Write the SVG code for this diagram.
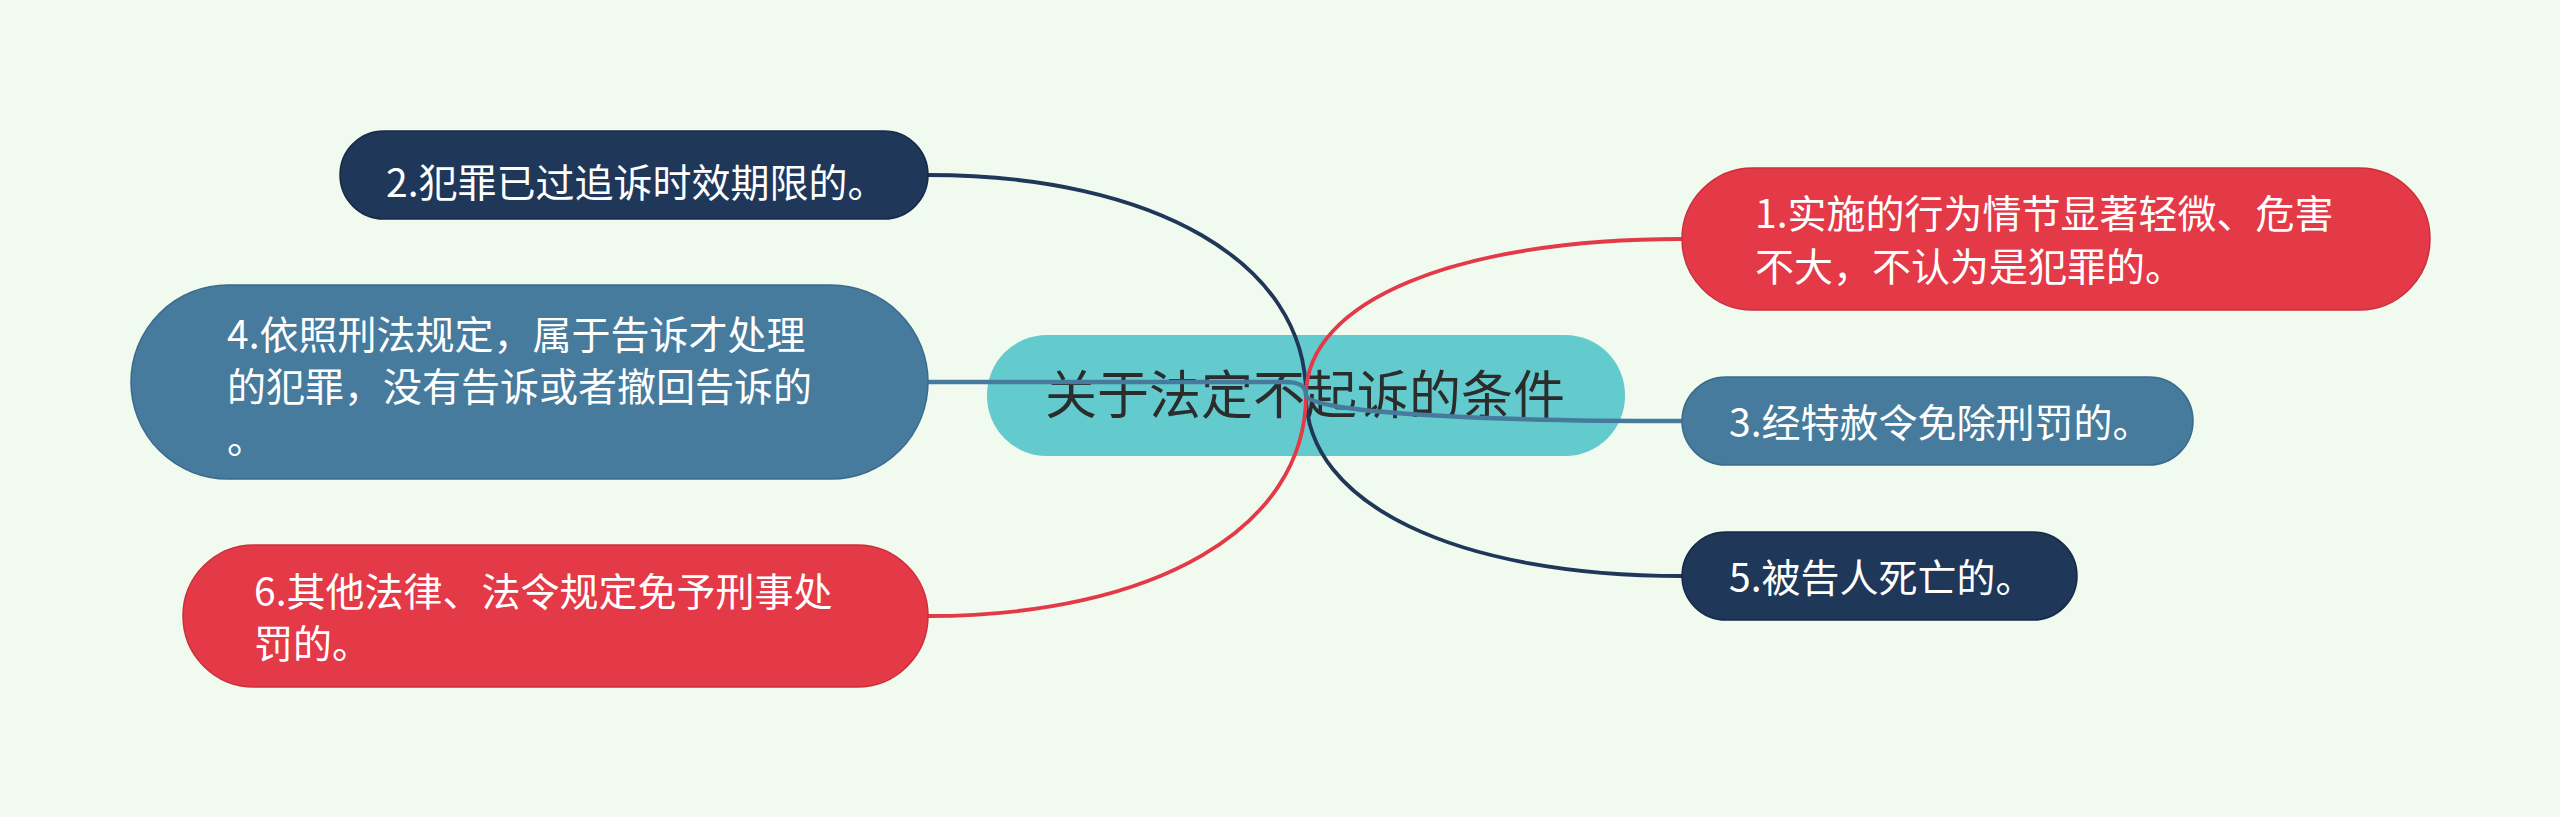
<svg xmlns="http://www.w3.org/2000/svg" width="2560" height="817" viewBox="0 0 2560 817">
<style>
.bg{fill:#f0faef}
.t{font-family:"Noto Sans CJK SC","Noto Sans",sans-serif;font-size:39px;fill:#ffffff}
.ct{font-family:"Noto Sans CJK SC","Noto Sans",sans-serif;font-size:52px;fill:#2c2c2c}
.navy{fill:#1f3759;stroke:#172b49;stroke-width:1.5}
.steel{fill:#467b9d;stroke:#3b6b8c;stroke-width:1.5}
.red{fill:#e43947;stroke:#cc2f3c;stroke-width:1.5}
.c{fill:none;stroke-width:3.8;stroke-linecap:round}
.cn{stroke:#1f3759}
.cr{stroke:#e43947}
.cb{stroke:#467b9d;stroke-width:4.5}
</style>
<rect class="bg" x="0" y="0" width="2560" height="817"/>
<g id="center">
<rect x="987" y="335" width="638" height="121" rx="60" ry="60" fill="#63cbcd"/>
<text class="ct" x="1045" y="414">关于法定不起诉的条件</text>
</g>
<g id="connectors">
<path class="c cn" d="M1306,395 C1306,263 1155,175 928,175"/>
<path class="c cn" d="M1306,395 C1306,504 1456,576 1682,576"/>
<path class="c cr" d="M1306,395 C1306,301 1456,239 1682,239"/>
<path class="c cr" d="M1306,395 C1306,528 1155,616 928,616"/>
<path class="c cb" d="M1306,395 C1306,385 1298,382 1285,382 L928,382"/>
<path class="c cb" d="M1306,395 C1306,411 1456,421 1682,421"/>
</g>
<g id="node2">
<rect class="navy" x="340" y="131" width="588" height="88" rx="44" ry="44"/>
<text class="t" x="386" y="197">2.犯罪已过追诉时效期限的。</text>
</g>
<g id="node4">
<rect class="steel" x="131" y="285" width="797" height="194" rx="97" ry="97"/>
<text class="t" x="227" y="349">4.依照刑法规定，属于告诉才处理</text>
<text class="t" x="227" y="401">的犯罪，没有告诉或者撤回告诉的</text>
<text class="t" x="227" y="453">。</text>
</g>
<g id="node6">
<rect class="red" x="183" y="545" width="745" height="142" rx="71" ry="71"/>
<text class="t" x="254" y="606">6.其他法律、法令规定免予刑事处</text>
<text class="t" x="254" y="658">罚的。</text>
</g>
<g id="node1">
<rect class="red" x="1682" y="168" width="748" height="142" rx="71" ry="71"/>
<text class="t" x="1755" y="228">1.实施的行为情节显著轻微、危害</text>
<text class="t" x="1755" y="281">不大，不认为是犯罪的。</text>
</g>
<g id="node3">
<rect class="steel" x="1682" y="377" width="511" height="88" rx="44" ry="44"/>
<text class="t" x="1729" y="437">3.经特赦令免除刑罚的。</text>
</g>
<g id="node5">
<rect class="navy" x="1682" y="532" width="395" height="88" rx="44" ry="44"/>
<text class="t" x="1729" y="592">5.被告人死亡的。</text>
</g>
</svg>
